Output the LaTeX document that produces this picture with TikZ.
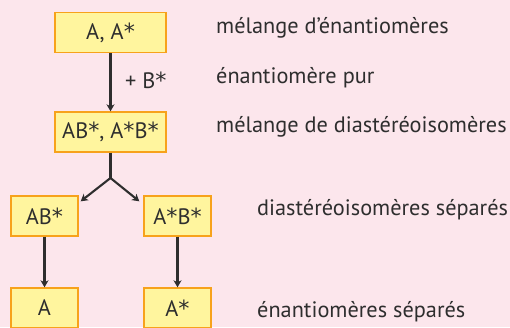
\documentclass[tikz,border=0pt]{standalone}
\usepackage{fontspec}
\setmainfont{PT Sans}
\newfontfamily\starfont{DejaVu Sans}
\newcommand{\etoile}{{\starfont *}}
\usetikzlibrary{arrows.meta,calc}
\definecolor{bgpink}{HTML}{FCE6EC}
\definecolor{boxfill}{HTML}{FFF59E}
\definecolor{boxline}{HTML}{F7A21B}
\definecolor{ink}{HTML}{2E2E2E}
\tikzset{
  species/.style={draw=boxline, fill=boxfill, line width=1.4pt, text=ink,
    inner sep=0pt, anchor=center},
  wide/.style={minimum width=111pt, minimum height=40pt},
  narrow/.style={minimum width=67pt, minimum height=40pt},
  flow/.style={draw=ink, line width=2.1pt, -{Stealth[length=7pt,width=8pt,inset=2pt]}},
  caption/.style={anchor=base west, text=ink, inner sep=0pt},
}
\begin{document}
\begin{tikzpicture}[x=1pt, y=-1pt, font=\fontsize{22.3}{25}\selectfont]
  \fill[bgpink] (0,0) rectangle (510,327);
  \useasboundingbox (0,0) rectangle (510,327);
  \begin{scope}
    \clip (0,0) rectangle (510,327);
    % species boxes
    \node[species, wide]   (mix)  at (110.5,32.5) {A, A\etoile};
    \node[species, wide]   (dia)  at (110.5,132)  {AB\etoile, A\etoile B\etoile};
    \node[species, narrow] (ab)   at (44.5,216)   {AB\etoile};
    \node[species, narrow] (asb)  at (177.5,216)  {A\etoile B\etoile};
    \node[species, narrow] (a)    at (44.5,308)   {A};
    \node[species, narrow] (as)   at (177.5,308)  {A\etoile};
    % reaction with the pure enantiomer
    \draw[flow] (mix.south) -- (dia.north);
    \node[caption] (reagent) at (125,88) {+ B\etoile};
    % separation of the diastereoisomers
    \coordinate (fork) at (110.5,178);
    \coordinate (leftend) at ($(ab.north east)+(2,6)$);
    \coordinate (rightend) at ($(asb.north west)+(-4,6)$);
    \draw[ink, line width=2.1pt] (dia.south) -- (fork);
    \draw[flow] (fork) -- (leftend);
    \draw[flow] (fork) -- (rightend);
    % recovery of the enantiomers
    \draw[flow] (ab.south) -- (a.north);
    \draw[flow] (asb.south) -- (as.north);
  \end{scope}
  % captions
  \node[caption] (c1) at (216,33)  {mélange d’énantiomères};
  \node[caption] (c2) at (216,83)  {énantiomère pur};
  \node[caption] (c3) at (216,132) {mélange de diastéréoisomères};
  \node[caption] (c4) at (257,215) {diastéréoisomères séparés};
  \node[caption] (c5) at (257,317) {énantiomères séparés};
\end{tikzpicture}
\end{document}
